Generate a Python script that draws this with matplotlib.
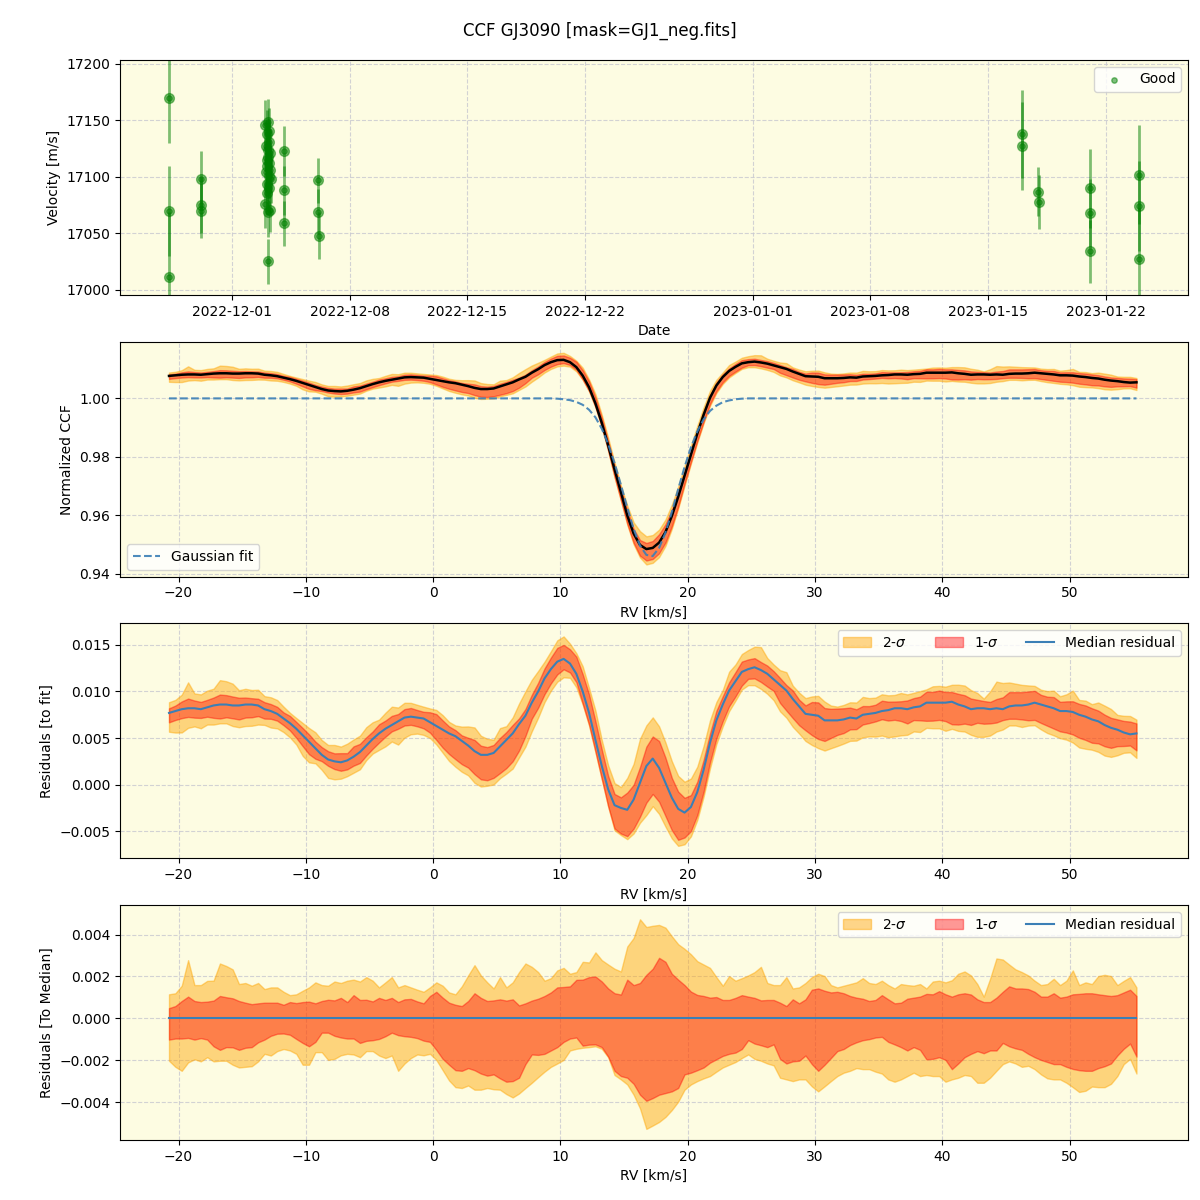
import numpy as np
import pandas as pd
import matplotlib
matplotlib.use("Agg")
import matplotlib.pyplot as plt
import matplotlib.dates as mdates

# --- RV time series (panel 1) ---
obs_date = [
    '2022-11-27 05:00', '2022-11-27 05:10', '2022-11-27 05:20',
    '2022-11-29 03:00', '2022-11-29 03:10', '2022-11-29 03:20',
    '2022-12-03 03:10', '2022-12-02 23:30', '2022-12-03 04:40', '2022-12-03 01:50',
    '2022-12-03 05:10', '2022-12-03 00:30', '2022-12-03 02:50', '2022-12-03 06:10',
    '2022-12-03 03:30', '2022-12-03 01:10', '2022-12-03 04:00', '2022-12-03 02:20',
    '2022-12-03 05:40', '2022-12-03 00:50', '2022-12-03 03:50', '2022-12-03 07:00',
    '2022-12-03 02:00', '2022-12-03 04:20', '2022-12-03 01:30', '2022-12-02 22:40',
    '2022-12-03 06:30', '2022-12-03 03:00', '2022-12-03 02:40',
    '2022-12-04 01:40', '2022-12-04 01:50', '2022-12-04 02:00',
    '2022-12-06 03:00', '2022-12-06 03:10', '2022-12-06 03:20',
    '2023-01-17 00:00', '2023-01-17 00:10',
    '2023-01-18 00:00', '2023-01-18 00:10',
    '2023-01-21 02:00', '2023-01-21 02:10', '2023-01-21 02:20',
    '2023-01-24 00:00', '2023-01-24 00:10', '2023-01-24 00:20',
]
obs_rv = [
    17170, 17070, 17011,
    17098, 17075, 17070,
    17149, 17146, 17141, 17138, 17131, 17127, 17124, 17121, 17118, 17115, 17112,
    17110, 17106, 17104, 17101, 17098, 17094, 17090, 17086, 17076, 17071, 17069, 17025,
    17123, 17088, 17059,
    17097, 17069, 17048,
    17138, 17127,
    17087, 17078,
    17090, 17068, 17034,
    17102, 17074, 17027,
]
obs_err = [
    40, 40, 58,
    25, 25, 24,
    20, 22, 20, 21, 20, 22, 20, 21, 20, 22, 20,
    21, 20, 22, 20, 21, 20, 22, 20, 21, 20, 22, 20,
    22, 22, 20,
    20, 20, 21,
    39, 39,
    22, 24,
    35, 30, 28,
    44, 40, 45,
]

# --- CCF profiles (panels 2-4) ---
rv = np.arange(-20.75, 55.26, 0.5)

gauss_fit = [1.0] * 61 + [
    0.9999, 0.9997, 0.9994, 0.9988, 0.9978, 0.9961, 0.9935, 0.9896, 0.9844, 0.9779,
    0.9704, 0.9626, 0.9553, 0.9496, 0.9464, 0.9460, 0.9488, 0.9540, 0.9611, 0.9689,
    0.9765, 0.9832, 0.9887, 0.9928, 0.9957, 0.9975, 0.9987, 0.9993, 0.9997, 0.9999,
] + [1.0] * 62

# median residual to the fit
median_res = [
    0.0077, 0.0079, 0.0081, 0.0082, 0.0082, 0.0081, 0.0083, 0.0085, 0.0086, 0.0086,
    0.0085, 0.0085, 0.0086, 0.0086, 0.0085, 0.0081, 0.0079, 0.0076, 0.0071, 0.0066,
    0.0060, 0.0053, 0.0046, 0.0039, 0.0032, 0.0027, 0.0025, 0.0024, 0.0026, 0.0030,
    0.0035, 0.0042, 0.0049, 0.0055, 0.0060, 0.0064, 0.0068, 0.0072, 0.0073, 0.0072,
    0.0071, 0.0067, 0.0063, 0.0059, 0.0055, 0.0052, 0.0047, 0.0042, 0.0036, 0.0032,
    0.0032, 0.0034, 0.0041, 0.0048, 0.0055, 0.0065, 0.0074, 0.0088, 0.0100, 0.0114,
    0.0124, 0.0132, 0.0135, 0.0130, 0.0119, 0.0100, 0.0077, 0.0048, 0.0020, -0.0005,
    -0.0022, -0.0025, -0.0027, -0.0016, 0.0002, 0.0020, 0.0028, 0.0018, 0.0002, -0.0014,
    -0.0026, -0.0030, -0.0024, -0.0008, 0.0016, 0.0045, 0.0069, 0.0086, 0.0101, 0.0111,
    0.0121, 0.0124, 0.0126, 0.0123, 0.0119, 0.0113, 0.0107, 0.0101, 0.0092, 0.0084,
    0.0076, 0.0075, 0.0074, 0.0069, 0.0069, 0.0069, 0.0070, 0.0072, 0.0071, 0.0075,
    0.0076, 0.0077, 0.0079, 0.0080, 0.0082, 0.0082, 0.0081, 0.0083, 0.0084, 0.0088,
    0.0088, 0.0088, 0.0088, 0.0089, 0.0086, 0.0084, 0.0081, 0.0082, 0.0082, 0.0081,
    0.0082, 0.0081, 0.0084, 0.0085, 0.0085, 0.0086, 0.0088, 0.0086, 0.0084, 0.0082,
    0.0079, 0.0079, 0.0078, 0.0075, 0.0073, 0.0070, 0.0068, 0.0064, 0.0061, 0.0059,
    0.0056, 0.0054, 0.0055,
]

# percentile offsets from the median, in units of 1e-4
hi2 = [
    11.5, 12.0, 15.6, 27.8, 15.9, 15.9, 17.9, 18.0, 26.2, 25.0,
    23.4, 16.4, 16.9, 15.6, 16.9, 14.0, 14.8, 14.8, 12.7, 11.1,
    11.5, 13.2, 14.8, 17.2, 15.9, 15.6, 17.6, 16.9, 18.0, 18.5,
    17.6, 19.7, 18.0, 14.8, 17.2, 19.7, 14.8, 15.9, 14.8, 13.7,
    12.7, 14.8, 17.2, 15.6, 12.4, 11.5, 15.3, 20.5, 25.4, 20.5,
    17.2, 14.3, 19.7, 14.8, 17.2, 22.1, 26.2, 24.6, 22.1, 18.0,
    19.2, 22.9, 24.1, 21.3, 22.1, 27.0, 26.7, 31.5, 27.8, 25.7,
    23.7, 22.4, 34.3, 38.4, 47.3, 43.6, 44.2, 44.6, 43.3, 39.2,
    35.4, 33.2, 30.6, 27.3, 25.7, 24.1, 19.7, 15.6, 20.2, 18.0,
    19.2, 20.5, 22.1, 24.6, 16.9, 15.9, 15.9, 19.7, 14.3, 14.8,
    16.9, 19.7, 21.3, 20.2, 15.9, 14.8, 15.6, 16.4, 17.2, 19.2,
    16.9, 16.4, 18.0, 15.9, 14.3, 16.4, 15.9, 15.6, 16.4, 14.3,
    17.6, 18.0, 17.2, 18.2, 21.3, 22.4, 20.5, 16.4, 10.4, 18.9,
    28.6, 28.1, 25.7, 23.4, 22.1, 20.5, 18.0, 15.9, 16.4, 18.9,
    15.9, 18.0, 22.9, 15.9, 17.2, 16.4, 20.2, 20.8, 20.2, 15.9,
    17.9, 19.7, 14.8,
]
hi1 = [
    4.9, 5.9, 8.3, 10.4, 8.3, 7.8, 8.0, 8.5, 10.7, 10.1,
    9.6, 8.3, 7.5, 6.8, 7.2, 7.5, 7.5, 7.5, 6.5, 7.8,
    7.3, 7.8, 8.0, 7.2, 8.3, 8.9, 8.6, 9.8, 7.8, 11.1,
    8.8, 8.9, 8.1, 9.8, 8.8, 9.8, 7.8, 9.1, 9.3, 8.1,
    7.2, 10.7, 12.7, 9.9, 7.5, 6.5, 5.9, 8.3, 12.0, 9.8,
    8.3, 8.6, 9.1, 8.5, 9.1, 6.2, 7.2, 8.5, 9.4, 10.7,
    12.4, 14.8, 15.0, 15.3, 18.4, 18.5, 19.7, 20.0, 17.6, 14.3,
    12.0, 11.4, 18.5, 15.9, 16.9, 20.8, 23.7, 28.9, 27.0, 21.3,
    18.5, 15.9, 12.8, 11.2, 10.7, 9.9, 10.2, 8.8, 8.8, 9.8,
    11.1, 10.4, 9.8, 8.6, 8.8, 8.8, 7.5, 5.9, 9.1, 7.2,
    9.1, 13.7, 14.3, 13.2, 12.4, 12.7, 12.0, 10.7, 9.9, 9.4,
    8.3, 8.8, 11.1, 9.1, 7.2, 7.5, 9.4, 9.9, 10.4, 11.7,
    11.5, 13.0, 11.5, 10.4, 11.5, 12.0, 11.4, 9.1, 7.8, 7.8,
    9.9, 12.7, 15.3, 14.3, 14.3, 14.0, 12.7, 10.4, 10.4, 12.0,
    9.9, 10.4, 11.5, 11.7, 12.0, 12.0, 11.5, 11.1, 10.7, 11.1,
    12.4, 13.7, 10.7,
]
lo1 = [
    -10.1, -9.6, -9.6, -9.3, -10.1, -9.4, -10.1, -13.3, -15.0, -13.7,
    -13.8, -15.0, -14.0, -13.7, -11.4, -10.1, -8.3, -7.3, -7.2, -7.8,
    -9.8, -11.7, -13.3, -11.2, -6.8, -6.8, -8.3, -9.1, -9.6, -9.6,
    -11.7, -10.7, -10.4, -9.8, -8.5, -6.8, -8.0, -8.5, -8.8, -9.4,
    -10.6, -11.2, -15.0, -19.3, -22.1, -24.7, -25.0, -23.7, -24.7, -26.3,
    -27.3, -26.7, -28.6, -30.2, -29.9, -28.3, -21.8, -17.2, -17.4, -16.9,
    -15.3, -13.7, -11.2, -9.6, -9.1, -13.0, -12.5, -12.4, -13.7, -18.2,
    -25.0, -27.5, -28.3, -31.2, -36.4, -39.3, -38.0, -36.4, -35.6, -34.8,
    -33.2, -26.7, -25.9, -24.7, -23.4, -21.1, -19.5, -17.9, -16.9, -16.3,
    -14.6, -10.4, -12.0, -12.8, -13.7, -12.4, -19.3, -21.5, -20.5, -20.2,
    -17.7, -21.8, -25.0, -22.1, -18.9, -15.6, -14.6, -12.7, -11.4, -10.4,
    -9.9, -9.1, -8.8, -11.2, -12.4, -13.7, -15.3, -13.7, -15.0, -19.5,
    -19.3, -18.5, -19.8, -24.2, -21.5, -18.5, -16.9, -15.6, -16.6, -15.3,
    -15.3, -11.7, -13.3, -14.3, -15.0, -16.9, -18.5, -19.8, -20.8, -21.8,
    -21.8, -23.1, -24.1, -24.7, -25.0, -25.0, -23.7, -22.8, -21.5, -17.7,
    -14.5, -12.0, -18.2,
]
lo2 = [
    -20.2, -23.1, -25.0, -21.0, -19.5, -20.5, -18.5, -20.5, -20.2, -20.2,
    -22.1, -23.4, -23.1, -22.8, -20.5, -16.9, -17.7, -15.6, -14.6, -15.3,
    -16.9, -22.1, -22.1, -16.1, -16.1, -19.8, -19.3, -17.6, -16.9, -17.2,
    -18.5, -15.6, -15.6, -17.7, -18.9, -17.7, -25.0, -21.5, -18.9, -17.2,
    -17.6, -16.9, -19.8, -24.7, -29.6, -32.8, -33.2, -32.0, -34.0, -34.0,
    -33.2, -33.8, -34.0, -36.1, -37.7, -35.8, -33.2, -30.7, -28.0, -25.4,
    -23.1, -21.5, -19.8, -15.3, -14.5, -14.0, -13.7, -13.3, -14.5, -18.5,
    -27.0, -29.1, -31.5, -36.4, -42.9, -52.7, -51.1, -49.4, -47.0, -43.7,
    -39.7, -34.0, -31.5, -29.9, -28.6, -27.5, -25.4, -23.4, -22.1, -20.8,
    -18.9, -17.2, -19.3, -20.2, -21.5, -22.4, -28.3, -29.1, -29.9, -29.1,
    -29.1, -32.4, -34.8, -32.4, -29.9, -27.5, -25.9, -25.0, -23.7, -24.2,
    -24.2, -25.4, -26.3, -29.1, -30.2, -29.1, -27.5, -25.9, -27.5, -27.0,
    -27.5, -27.5, -30.2, -29.1, -28.3, -27.0, -27.5, -30.7, -30.7, -28.3,
    -25.0, -21.8, -20.5, -21.5, -23.1, -22.6, -24.2, -26.7, -28.6, -29.1,
    -29.1, -30.7, -32.8, -35.1, -34.5, -32.5, -32.8, -32.8, -31.2, -27.5,
    -21.8, -19.3, -26.3,
]

# derived curves
fit = np.array(gauss_fit)
med = np.array(median_res)
d_hi2, d_hi1 = np.array(hi2) * 1e-4, np.array(hi1) * 1e-4
d_lo1, d_lo2 = np.array(lo1) * 1e-4, np.array(lo2) * 1e-4
ccf_med = fit + med

bg = '#fdfce2'
c2, a2 = 'orange', 0.45
c1, a1 = 'red', 0.4
line_c = '#3b7fb6'

fig, axes = plt.subplots(4, 1, figsize=(12, 12))
plt.subplots_adjust(left=0.1, right=0.99, top=0.95, bottom=0.05, hspace=0.2)
fig.suptitle('CCF GJ3090 [mask=GJ1_neg.fits]', fontsize=12, y=0.982)

for ax in axes:
    ax.set_facecolor(bg)
    ax.grid(True, linestyle='--', color='#c8c8d0', alpha=0.8)
    ax.set_axisbelow(True)

# panel 1: velocities
ax = axes[0]
dates = pd.to_datetime(obs_date)
ax.errorbar(dates, obs_rv, yerr=obs_err, fmt='o', color='green', alpha=0.5,
            ms=7, elinewidth=2, capsize=0)
ax.scatter(dates, obs_rv, s=15, color='green', alpha=0.5, label='Good', zorder=3)
ax.set_ylim(16995.5, 17203.5)
ax.xaxis.set_major_locator(mdates.DayLocator(bymonthday=[1, 8, 15, 22]))
ax.xaxis.set_major_formatter(mdates.DateFormatter('%Y-%m-%d'))
ax.set_xlabel('Date')
ax.set_ylabel('Velocity [m/s]')
ax.legend(loc='upper right')

xlim = (-24.6, 59.3)

# panel 2: normalized CCF
ax = axes[1]
ax.fill_between(rv, ccf_med + d_lo2, ccf_med + d_hi2, color=c2, alpha=a2)
ax.fill_between(rv, ccf_med + d_lo1, ccf_med + d_hi1, color=c1, alpha=a1)
ax.plot(rv, ccf_med, color='black', lw=1.8)
ax.plot(rv, fit, '--', color=line_c, lw=1.5, alpha=0.9, label='Gaussian fit')
ax.set_xlim(*xlim)
ax.set_ylim(0.939, 1.0194)
ax.set_yticks([0.94, 0.96, 0.98, 1.00])
ax.set_xlabel('RV [km/s]')
ax.set_ylabel('Normalized CCF')
ax.legend(loc='lower left')

# panel 3: residuals to fit
ax = axes[2]
ax.fill_between(rv, med + d_lo2, med + d_hi2, color=c2, alpha=a2, label='2-$\\sigma$')
ax.fill_between(rv, med + d_lo1, med + d_hi1, color=c1, alpha=a1, label='1-$\\sigma$')
ax.plot(rv, med, color=line_c, lw=1.5, label='Median residual')
ax.set_xlim(*xlim)
ax.set_ylim(-0.0079, 0.0173)
ax.set_xlabel('RV [km/s]')
ax.set_ylabel('Residuals [to fit]')
ax.legend(loc='upper right', ncol=3)

# panel 4: residuals to median
ax = axes[3]
ax.fill_between(rv, d_lo2, d_hi2, color=c2, alpha=a2, label='2-$\\sigma$')
ax.fill_between(rv, d_lo1, d_hi1, color=c1, alpha=a1, label='1-$\\sigma$')
ax.plot(rv, med - med, color=line_c, lw=1.5, label='Median residual')
ax.set_xlim(*xlim)
ax.set_ylim(-0.0058, 0.0054)
ax.set_yticks([-0.004, -0.002, 0.0, 0.002, 0.004])
ax.set_xlabel('RV [km/s]')
ax.set_ylabel('Residuals [To Median]')
ax.legend(loc='upper right', ncol=3)

plt.savefig('out.png', dpi=100)
